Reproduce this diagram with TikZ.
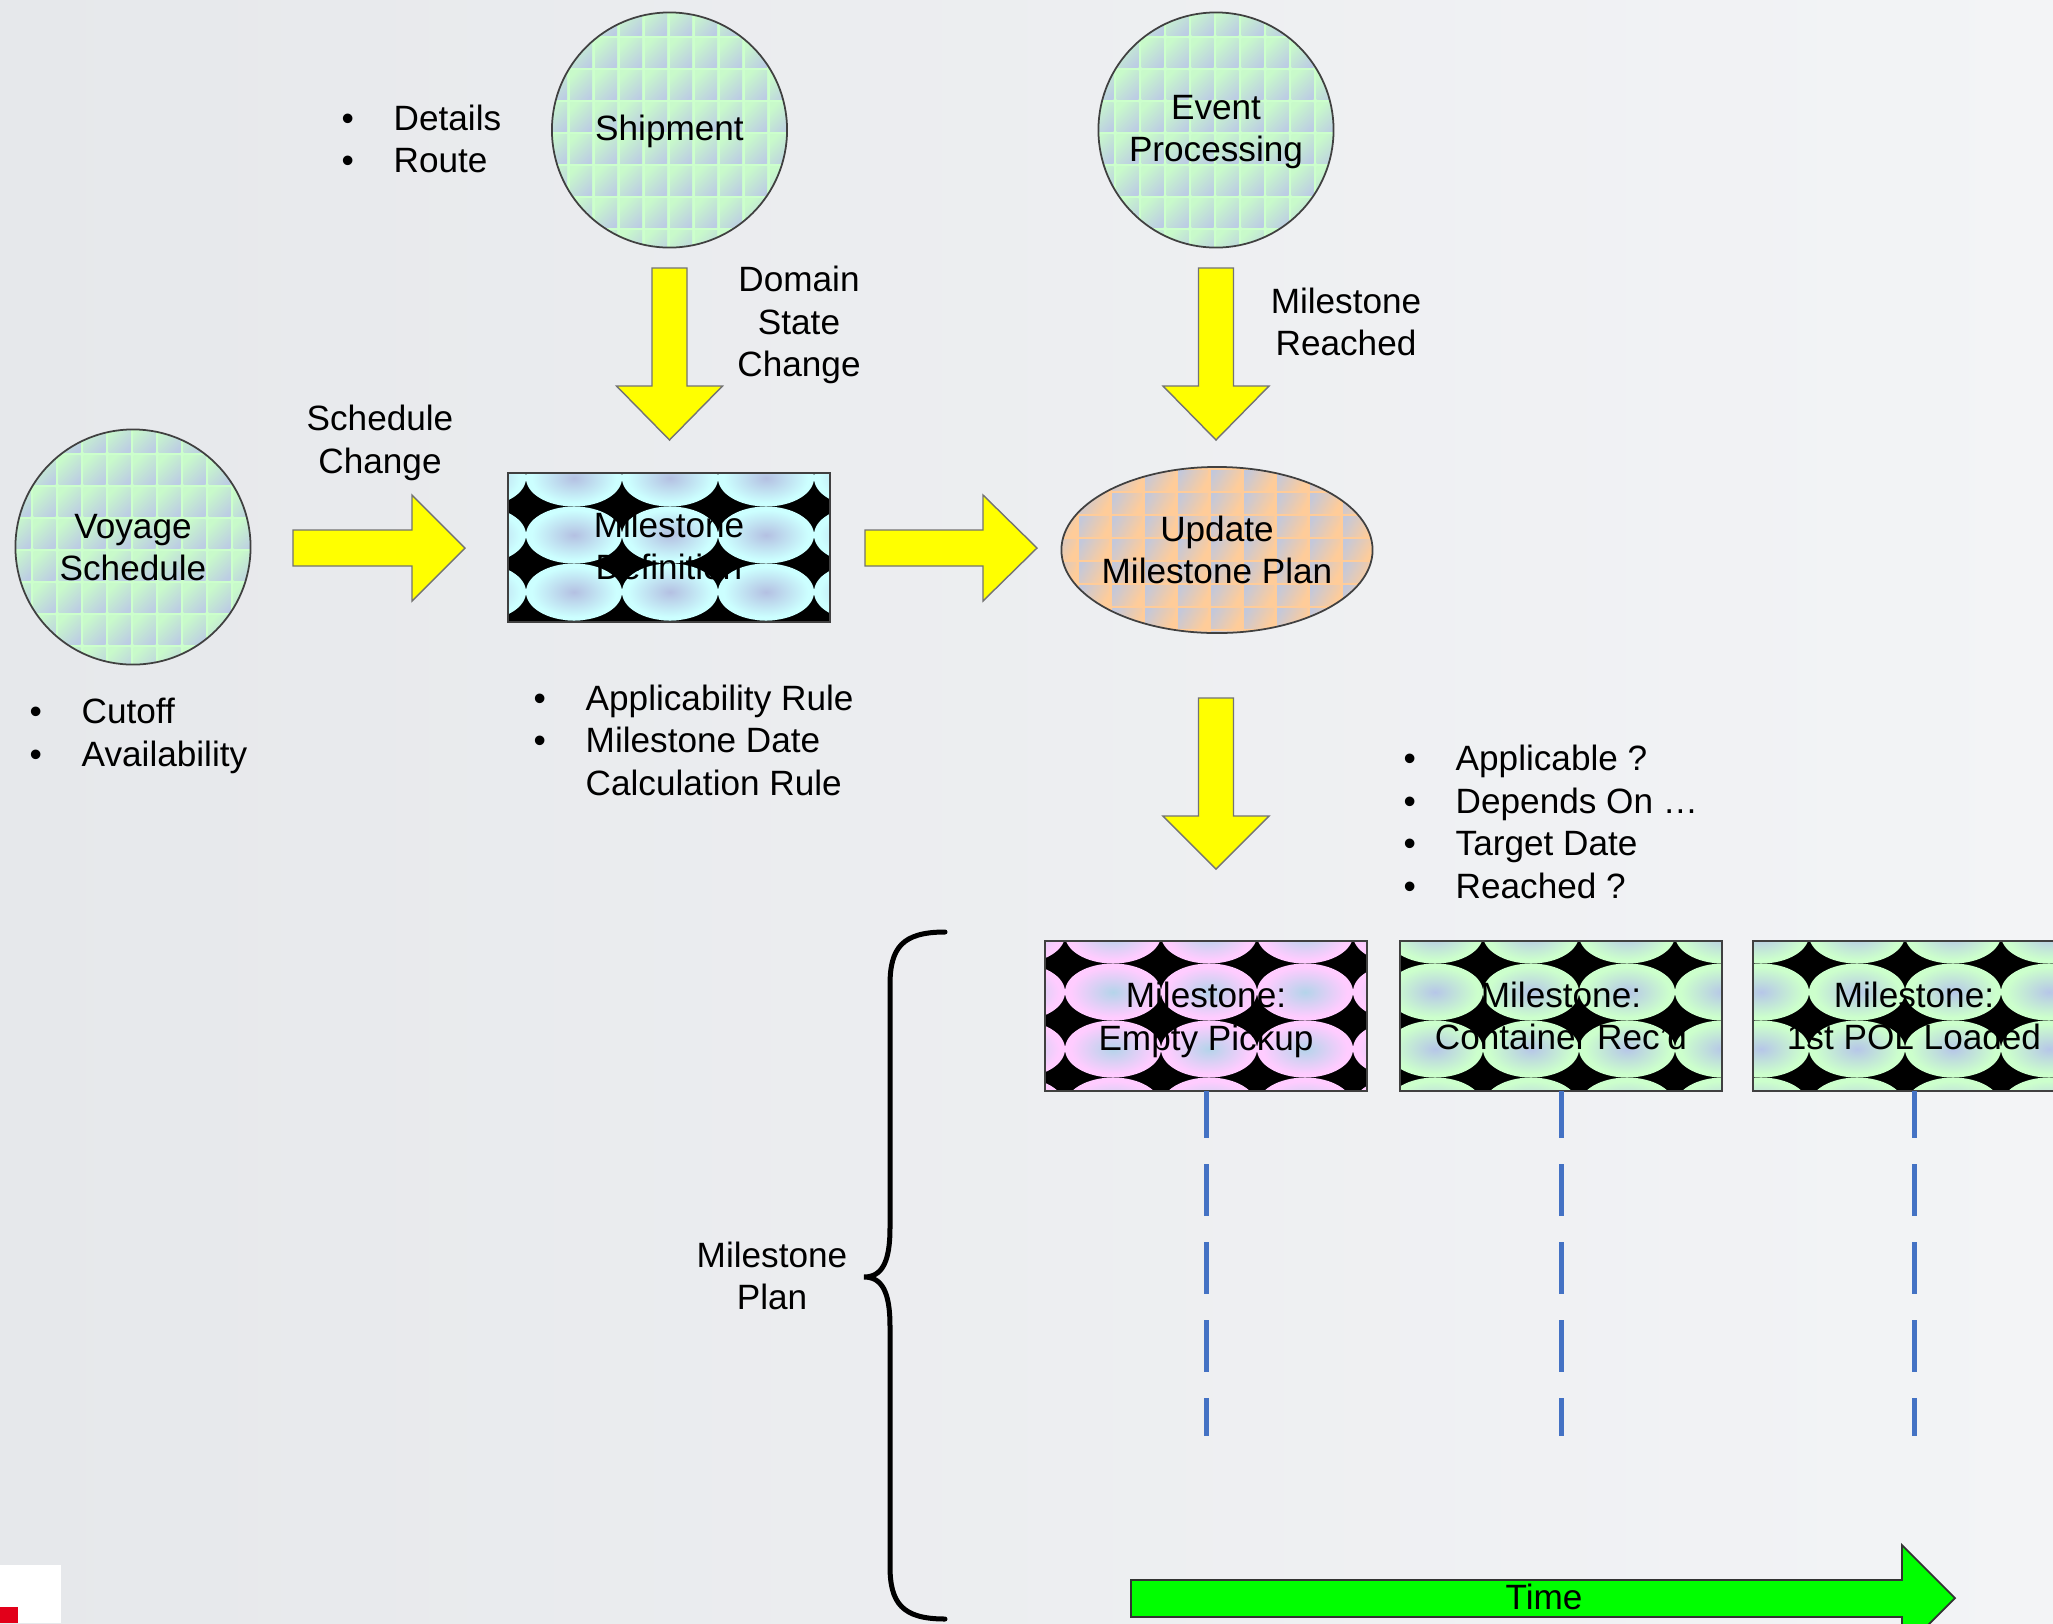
\documentclass[tikz,border=0pt]{standalone}
\usepackage{fontspec}
\setmainfont{Liberation Sans}
\usetikzlibrary{calc}

\definecolor{bgL}{HTML}{E6E8EB}
\definecolor{bgR}{HTML}{F3F4F6}
\definecolor{cgStripe}{HTML}{CCFFCC}
\definecolor{cgA}{HTML}{C8FACA}
\definecolor{cgB}{HTML}{BCCCE4}
\definecolor{orStripe}{HTML}{FFCC99}
\definecolor{orA}{HTML}{C2C8DC}
\definecolor{orB}{HTML}{FFCC99}
\definecolor{cyE}{HTML}{CCFFFF}
\definecolor{cyC}{HTML}{B4C0E2}
\definecolor{pkE}{HTML}{FFCCFF}
\definecolor{pkC}{HTML}{B4D4EA}
\definecolor{grE}{HTML}{CCFFCC}
\definecolor{grC}{HTML}{B6C6E8}
\definecolor{arrY}{HTML}{FFFF00}
\definecolor{arrG}{HTML}{00FF00}
\definecolor{dashB}{HTML}{4472C4}
\definecolor{redC}{HTML}{E2001A}

\pgfdeclareradialshading{ellcy}{\pgfpoint{0bp}{0bp}}{color(0bp)=(cyC); color(22bp)=(cyE); color(50bp)=(cyE)}
\pgfdeclareradialshading{ellpk}{\pgfpoint{0bp}{0bp}}{color(0bp)=(pkC); color(22bp)=(pkE); color(50bp)=(pkE)}
\pgfdeclareradialshading{ellgr}{\pgfpoint{0bp}{0bp}}{color(0bp)=(grC); color(22bp)=(grE); color(50bp)=(grE)}
\pgfdeclarehorizontalshading{cellgr}{100bp}{color(0bp)=(cgA); color(25bp)=(cgA); color(80bp)=(cgB); color(100bp)=(cgB)}
\pgfdeclarehorizontalshading{cellor}{100bp}{color(0bp)=(orA); color(20bp)=(orA); color(75bp)=(orB); color(100bp)=(orB)}

\tikzset{
  lbl/.style={font=\fontsize{10}{12.1}\selectfont, align=center, inner sep=0pt, text=black},
  lbll/.style={lbl, align=left, anchor=west},
  shapeline/.style={draw=black!75, line width=0.5pt},
  yarrow/.style={fill=arrY, draw=black!55, line width=0.4pt},
  garrow/.style={fill=arrG, draw=black!80, line width=0.5pt},
  bracestyle/.style={draw=black, line width=0.05cm, line cap=round},
  dashln/.style={draw=dashB, line width=0.05cm, dash pattern=on 0.52cm off 0.26cm, dash phase=0.05cm},
}

\newcommand\bul{\makebox[0.52cm][l]{\textbullet}}

\newcommand\CircGrid[2]{%
  \begin{scope}
    \clip (#1,#2) circle (1.175cm);
    \fill[cgStripe] ({#1-125},{#2-130}) rectangle ({#1+125},{#2+130});
    \foreach \i in {-5,...,4}{%
      \foreach \j in {-4,...,3}{%
        \shade[shading=cellgr, shading angle=-45]
          ({#1-2.5+25*\i+3},{#2+1+32*\j+3}) rectangle ++(22,29);
      }}
  \end{scope}
  \draw[shapeline] (#1,#2) circle (1.175cm);}

\newcommand\EllTile[7]{%
  \begin{scope}
    \clip (#1,#2) rectangle (#3,#4);
    \fill[black] (#1,#2) rectangle (#3,#4);
    \foreach \i in {0,...,5}{%
      \foreach \j in {0,...,3}{%
        \shade[shading=#7] ({#5+96*\i},{#6+57*\j}) ellipse (0.48cm and 0.285cm);
      }}
  \end{scope}
  \draw[shapeline] (#1,#2) rectangle (#3,#4);}

\newcommand\DownArrow[4]{%
  \filldraw[yarrow] ({#1-17.5},#2) -- ({#1+17.5},#2) -- ({#1+17.5},#3) -- ({#1+53},#3)
    -- (#1,#4) -- ({#1-53},#3) -- ({#1-17.5},#3) -- cycle;}
\newcommand\RightArrow[4]{%
  \filldraw[yarrow] (#2,{#1-18}) -- (#3,{#1-18}) -- (#3,{#1-53}) -- (#4,#1)
    -- (#3,{#1+53}) -- (#3,{#1+18}) -- (#2,{#1+18}) -- cycle;}

\begin{document}
\begin{tikzpicture}[x=0.01cm, y=-0.01cm]
\useasboundingbox (0,0) rectangle (2053,1623);
\clip (0,0) rectangle (2053,1623);
\shade[left color=bgL, right color=bgR] (0,0) rectangle (2053,1623);

% circles
\CircGrid{669.5}{130}
\CircGrid{1216}{130}
\CircGrid{133}{547}
\node[lbl] (ship) at (669.5,131) {Shipment};
\node[lbl] (event) at (1216,132) {Event\\Processing};
\node[lbl] (voyage) at (133,547.5) {Voyage\\Schedule};

% update milestone plan ellipse
\begin{scope}
  \clip (1217,550) ellipse (1.555cm and 0.83cm);
  \fill[orStripe] (1050,460) rectangle (1385,640);
  \foreach \i in {-5,...,7}{%
    \foreach \j in {-4,...,6}{%
      \shade[shading=cellor, shading angle=-30]
        ({1217-108+33*\i+3},{550-60+23*\j+3}) rectangle ++(30,20);
    }}
\end{scope}
\draw[shapeline] (1217,550) ellipse (1.555cm and 0.83cm);
\node[lbl] (upd) at (1217,550) {Update\\Milestone Plan};

% milestone definition
\EllTile{508}{473}{830}{622}{478}{478}{ellcy}
\node[lbl] (def) at (669,546) {Milestone\\Definition};

% milestone boxes
\EllTile{1045}{941}{1367}{1091}{1017}{935}{ellpk}
\EllTile{1400}{941}{1722}{1091}{1339}{935}{ellgr}
\EllTile{1753}{941}{2075}{1091}{1665}{935}{ellgr}
\node[lbl] (m1) at (1206,1020) {Milestone:\\Empty Pickup};
\node[lbl] (m2) at (1561,1016) {Milestone:\\Container Rec'd};
\node[lbl] (m3) at (1914,1016) {Milestone:\\1st POL Loaded};

% yellow block arrows
\DownArrow{669.5}{268}{386}{440}
\DownArrow{1216}{268}{386}{440}
\DownArrow{1216}{698}{816}{869}
\RightArrow{548}{293}{412}{465}
\RightArrow{548}{865}{983}{1037}

% labels
\node[lbl] (domain) at (799,325) {Domain\\State\\Change};
\node[lbl] (reached) at (1346,322) {Milestone\\Reached};
\node[lbl] (sched) at (380,443) {Schedule\\Change};
\node[lbll] (shipinfo) at (341,139) {\bul Details\\\bul Route};
\node[lbll] (voyinfo) at (29,736) {\bul Cutoff\\\bul Availability};
\node[lbll] (definfo) at (533,740) {\bul Applicability Rule\\\bul Milestone Date\\\hspace*{0.52cm}Calculation Rule};
\node[lbll] (planinfo) at (1403,822) {\bul Applicable ?\\\bul Depends On \dots\\\bul Target Date\\\bul Reached ?};

% dashed time lines
\coordinate (e1) at (1206,1436);
\coordinate (e2) at (1561,1436);
\coordinate (e3) at (1914,1436);
\coordinate (b1) at (1206,1091);
\coordinate (b2) at (1561,1091);
\coordinate (b3) at (1914,1091);
\draw[dashln] (b1) -- (e1);
\draw[dashln] (b2) -- (e2);
\draw[dashln] (b3) -- (e3);

% brace
\coordinate (brtop) at (945,932);
\coordinate (brmid) at (864,1277);
\coordinate (brbot) at (945,1619);
\draw[bracestyle] (brtop) .. controls (902,932) and (890,948) .. (890,985)
  -- (890,1228) .. controls (890,1262) and (882,1277) .. (brmid)
  .. controls (882,1277) and (890,1292) .. (890,1326)
  -- (890,1566) .. controls (890,1603) and (902,1619) .. (brbot);
\node[lbl] (plan) at (772,1276) {Milestone\\Plan};

% time arrow
\filldraw[garrow] (1131,1580) -- (1902,1580) -- (1902,1545) -- (1955,1598)
  -- (1902,1651) -- (1902,1617) -- (1131,1617) -- cycle;
\node[lbl] (time) at (1544,1597) {Time};

% corner logo fragment
\fill[white] (0,1565) rectangle (61,1623);
\fill[redC] (0,1607) rectangle (18,1623);
\end{tikzpicture}
\end{document}
